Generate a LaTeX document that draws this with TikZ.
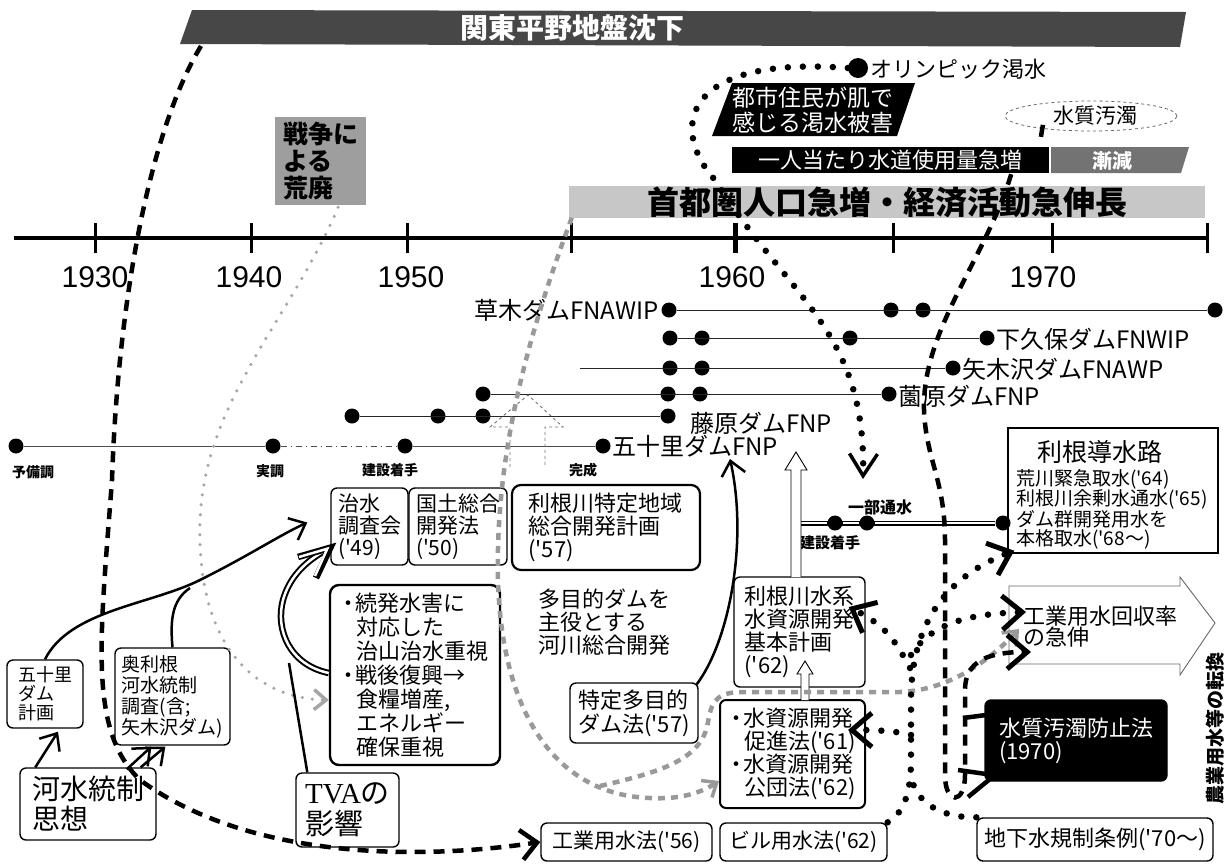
\documentclass[tikz,border=0pt]{standalone}
\usepackage{fontspec}
\newfontfamily\jp{Noto Sans CJK JP}
\newfontfamily\latf{Liberation Sans}
\newfontfamily\serf{Liberation Serif}
\usetikzlibrary{arrows.meta,calc,shapes.geometric}
\newcommand\fsz[2]{\fontsize{#1}{#2}\selectfont}
\newcommand\bul{\makebox[14pt][l]{\kern-4pt ・}}
\newcommand\ind{\hspace*{15pt}}
\begin{document}
\begin{tikzpicture}[x=1pt,y=-1pt,
  box/.style={draw, rounded corners=6pt, line width=1.4pt, inner sep=0pt, align=left},
  dotn/.style={circle, fill=black, inner sep=0pt, minimum size=15pt},
  damline/.style={line width=1pt, black!85},
  damlab/.style={inner sep=0pt, font={\jp\fsz{24}{24}}},
  small/.style={inner sep=0pt, font={\jp\bfseries\fsz{14}{14}}},
  yearlab/.style={inner sep=0pt, font={\latf\fsz{30}{30}}},
  bigdash/.style={line width=4.5pt, dash pattern=on 11pt off 8pt},
  greydash/.style={line width=4.5pt, black!40, dash pattern=on 7pt off 6pt},
  bdots/.style={line width=6.5pt, line cap=round, dash pattern=on 0pt off 15pt},
  gdots/.style={line width=3.5pt, line cap=round, black!35, dash pattern=on 0pt off 10pt},
  barbK/.style={-{Straight Barb[length=20pt,width=34pt,line width=5pt]}},
  barbS/.style={-{Straight Barb[length=14pt,width=24pt,line width=2.5pt]}},
  barbG/.style={-{Straight Barb[length=12pt,width=20pt,line width=3.5pt]}},
]
\useasboundingbox (0,0) rectangle (1226,863);

% ---------------- bands and top labels
\fill[black!72] (192,10) -- (1186,12) -- (1180,47) -- (180,44) -- cycle;
\node[font={\jp\bfseries\fsz{28}{30}}, text=white, inner sep=0] (kanto) at (572,28) {関東平野地盤沈下};
\node[fill=black!38, minimum width=91, minimum height=88, inner sep=0, align=left,
      font={\jp\bfseries\fsz{25}{27}}] (senso) at (320.5,161) {戦争に\\よる\\荒廃};
\node[fill=black!22, minimum width=636, minimum height=30, inner sep=0,
      font={\jp\bfseries\fsz{32}{32}}] (shuto) at (887,202) {首都圏人口急増・経済活動急伸長};
\node[fill=black, text=white, minimum width=317, minimum height=26, inner sep=0,
      font={\jp\fsz{22}{22}}] (hitori) at (890.5,160) {一人当たり水道使用量急増};
\fill[black!55] (1051,147) -- (1189,147) -- (1181,173) -- (1051,173) -- cycle;
\node[text=white, font={\jp\bfseries\fsz{20}{20}}, inner sep=0] (zengen) at (1112,161) {漸減};
\fill[black] (732,83) -- (915,83) -- (897,136) -- (712,136) -- cycle;
\node[text=white, align=left, font={\jp\fsz{23}{25}}, inner sep=0] (toshi) at (813,110) {都市住民が肌で\\感じる渇水被害};
\node[dotn, minimum size=20pt] (olym) at (858,68) {};
\node[anchor=west, inner sep=0, font={\jp\fsz{22}{22}}] (olymt) at (870,69) {オリンピック渇水};
\node[ellipse, draw=black!60, dashed, line width=0.8pt, minimum width=172, minimum height=30, inner sep=0,
      font={\jp\fsz{21}{21}}] (odaku) at (1091,116) {\hspace*{8pt}水質汚濁};

% ---------------- time axis
\coordinate (ax0) at (14,238);
\coordinate (ax1) at (1207,238);
\draw[line width=3.5pt] (ax0) -- (ax1);
\foreach \x in {95,251,407,571,893,1052,1207} \draw[line width=3pt] (\x,223) -- (\x,253);
\draw[line width=5pt] (735,223) -- (735,253);
\node[yearlab] (y1930) at (95,277) {1930};
\node[yearlab] (y1940) at (249,277) {1940};
\node[yearlab] (y1950) at (411,277) {1950};
\node[yearlab] (y1960) at (732,277) {1960};
\node[yearlab] (y1970) at (1043,277) {1970};

% ---------------- dam lines
\node[dotn] (a1) at (669,310) {}; \node[dotn] (a2) at (891,310) {};
\node[dotn] (a3) at (923,310) {}; \node[dotn] (a4) at (1215,310) {};
\draw[damline] (a1) -- (a4);
\node[damlab, anchor=east] (kusakit) at (659,310) {草木ダムFNAWIP};

\node[dotn] (b1) at (670,338) {}; \node[dotn] (b2) at (702,338) {};
\node[dotn] (b3) at (850,338) {}; \node[dotn] (b4) at (987,338) {};
\draw[damline] (b1) -- (b4);
\node[damlab, anchor=west] (shimot) at (996,339) {下久保ダムFNWIP};

\coordinate (c0) at (580,368);
\node[dotn] (c1) at (670,368) {}; \node[dotn] (c2) at (702,368) {};
\node[dotn] (c3) at (953,368) {};
\draw[damline] (c0) -- (c3);
\node[damlab, anchor=west] (yagit) at (962,369) {矢木沢ダムFNAWP};

\node[dotn] (d1) at (483,394) {}; \node[dotn] (d2) at (668,394) {};
\node[dotn] (d3) at (700,394) {}; \node[dotn] (d4) at (889,394) {};
\draw[damline] (d1) -- (d4);
\node[damlab, anchor=west] (sonot) at (898,396) {薗原ダムFNP};

\node[dotn] (e1) at (352,416) {}; \node[dotn] (e2) at (438,416) {};
\node[dotn] (e3) at (483,416) {}; \node[dotn] (e4) at (668,416) {};
\draw[damline] (e1) -- (e4);
\node[damlab, anchor=west] (fujit) at (690,423) {藤原ダムFNP};

\node[dotn] (f1) at (16,446) {}; \node[dotn] (f2) at (273,446) {};
\node[dotn] (f3) at (405,446) {}; \node[dotn] (f4) at (603,446) {};
\draw[line width=0.8pt, black!70] (f1) -- (f2);
\draw[line width=0.8pt, black!70, dash pattern=on 6pt off 4pt on 1pt off 4pt] (f2) -- (f3);
\draw[line width=0.8pt, black!70] (f3) -- (f4);
\node[damlab, anchor=west] (ikarit) at (612,446) {五十里ダムFNP};
\node[small, anchor=west] (yobi) at (12,472) {予備調};
\node[small] (jitsu) at (270,471) {実調};
\node[small] (kenset1) at (390,470) {建設着手};
\node[small] (kansei) at (583,470) {完成};

% dashed outline block arrow
\draw[black!55, dashed, line width=0.9pt] (510,467) -- (510,427) -- (490,427) -- (528,395) -- (563,427) -- (545,427) -- (545,467);

% ---------------- Tone canal line
\coordinate (g0) at (795,523);
\node[dotn] (g1) at (835,523) {}; \node[dotn] (g2) at (867,523) {};
\node[dotn] (g3) at (1003,523) {};
\draw[line width=5pt] (g0) -- (g3);
\draw[white, line width=1.3pt] (g0) -- (g1) (g1) -- (g2) (g2) -- (g3);
\node[inner sep=0, font={\jp\bfseries\fsz{16}{16}}] (ichibu) at (880,507) {一部通水};
\node[inner sep=0, font={\jp\bfseries\fsz{15}{15}}] (kenset2) at (830,543) {建設着手};

% ---------------- boxes
\node[box, minimum width=76, minimum height=68, font={\jp\fsz{18}{19}}] (gojuri) at (45,694) {五十里\\ダム\\計画};
\node[box, minimum width=115, minimum height=97, font={\jp\fsz{19}{21}}] (okutone) at (172.5,696.5) {奥利根\\河水統制\\調査(含;\\矢木沢ダム)};
\node[box, minimum width=136, minimum height=72, font={\jp\fsz{28}{30}}] (kasui) at (88,804) {河水統制\\思想};
\node[box, minimum width=103, minimum height=74, font={\jp\fsz{29}{31}}] (tva) at (347.5,810) {{\serf TVA}の\\影響};
\node[box, minimum width=77, minimum height=77, font={\jp\fsz{21}{22}}] (chisui) at (369.5,526.5) {治水\\調査会\\('49)};
\node[box, minimum width=98, minimum height=77, font={\jp\fsz{21}{22}}] (kokudo) at (458,526.5) {国土総合\\開発法\\('50)};
\node[box, line width=2.2pt, rounded corners=9pt, minimum width=188, minimum height=85, font={\jp\fsz{22}{23}}] (tonetoku) at (606,527.5) {利根川特定地域\\総合開発計画\\('57)\hspace*{110pt}};
\node[box, line width=2.4pt, rounded corners=9pt, minimum width=170, minimum height=180, font={\jp\fsz{22}{24}}] (zoku) at (415,675) {\bul 続発水害に\\\ind 対応した\\\ind 治山治水重視\\\bul 戦後復興→\\\ind 食糧増産,\\\ind エネルギー\\\ind 確保重視};
\node[inner sep=0, align=left, anchor=west, font={\jp\fsz{22}{23}}] (tamoku) at (538,622) {多目的ダムを\\主役とする\\河川総合開発};
\node[box, minimum width=128, minimum height=60, font={\jp\fsz{22}{24}}] (tokutei) at (634,713) {特定多目的\\ダム法('57)};
\node[box, minimum width=131, minimum height=110, font={\jp\fsz{22}{23}}] (tonesui) at (799.5,632) {利根川水系\\水資源開発\\基本計画\\('62)\hspace*{60pt}};
\node[box, line width=2pt, minimum width=145, minimum height=108, font={\jp\fsz{22}{23}}] (suishi) at (792.5,754) {\bul 水資源開発\\\ind 促進法('61)\\\bul 水資源開発\\\ind 公団法('62)};
\node[box, minimum width=171, minimum height=38, font={\jp\fsz{21}{21}}] (kogyo) at (626.5,842) {工業用水法('56)};
\node[box, minimum width=167, minimum height=38, font={\jp\fsz{21}{21}}] (biru) at (803.5,842) {ビル用水法('62)};
\node[box, minimum width=236, minimum height=43, font={\jp\fsz{22}{22}}] (chika) at (1095,839.5) {地下水規制条例('70〜)};
\node[box, fill=black, text=white, minimum width=182, minimum height=81, font={\jp\fsz{22}{23}}] (boshi) at (1076,740.5) {水質汚濁防止法\\(1970)\hspace*{90pt}};

% Tone canal box
\node[draw, line width=1.4pt, minimum width=210, minimum height=125, inner sep=0] (tonedo) at (1113,490.5) {};
\node[inner sep=0, font={\jp\fsz{25}{25}}] (tdtitle) at (1100,452) {利根導水路};
\node[anchor=north west, align=left, inner sep=0, font={\jp\fsz{19}{19}}] (tdbody) at (1016,469) {荒川緊急取水('64)\\利根川余剰水通水('65)\\ダム群開発用水を\\本格取水('68〜)};

% industrial water recycling arrow
\draw[black!60, line width=0.9pt] (1009,586) -- (1180,586) -- (1180,577) -- (1215,623) -- (1180,675) -- (1180,664) -- (1009,664) -- cycle;
\node[anchor=west, align=left, inner sep=0, font={\jp\fsz{22}{21}}] (kaishu) at (1023,627) {工業用水回収率\\の急伸};
\node[rotate=90, inner sep=0, font={\jp\bfseries\fsz{19}{19}}] (nogyo) at (1215,728) {農業用水等の転換};

% hollow up arrows
\draw[line width=0.9pt, fill=white] (791,577) -- (791,470) -- (785,470) -- (796,452) -- (807,470) -- (801,470) -- (801,577);
\draw[line width=0.9pt, fill=white] (801,700) -- (801,674) -- (797,674) -- (805,661) -- (813,674) -- (809,674) -- (809,700);

% ---------------- connectors
% subsidence -> industrial water law
\coordinate (c1s) at (201,46);
\draw[bigdash, -{Straight Barb[length=16pt,width=30pt,line width=4.5pt]}]
  (c1s) .. controls (150,130) and (118,300) .. (112,480)
  .. controls (100,640) and (88,730) .. (140,780)
  .. controls (250,860) and (420,860) .. (kogyo.west);

% war -> zoku (grey dotted)
\draw[gdots, barbG, black!35] ($(senso.south east)+(-28,2)$) .. controls (290,320) and (205,400) .. (200,520)
  .. controls (196,640) and (250,698) .. ($(zoku.west)+(0,25)$);

% population band -> water resource laws (grey dashed)
\draw[greydash, barbG] ($(shuto.south west)+(3,0)$) .. controls (530,330) and (495,450) .. (498,580)
  .. controls (502,720) and (560,795) .. (650,798) .. controls (685,800) and (705,790) .. ($(suishi.south west)+(0,-28)$);
\draw[greydash, barbG] (600,786) .. controls (660,772) and (702,760) .. (708,722)
  .. controls (712,697) and (720,692) .. (745,692) -- (900,692)
  .. controls (950,690) and (990,660) .. ($(kaishu.west)+(-4,2)$);

% Olympic drought -> partial water passage
\draw[bdots, -{Straight Barb[length=22pt,width=28pt,line width=3.5pt]}] (olym.west) .. controls (680,55) and (670,130) .. (715,180)
  .. controls (790,300) and (866,330) .. ($(g2)+(-4,-44)$);

% water use increase -> recycling (thick dashed U)
\draw[line width=4.5pt] ($(odaku.south west)+(13,-2)$) -- ($(odaku.south west)+(11,10)$);
\draw[bigdash, barbK] ($(hitori.south east)+(-38,1)$) .. controls (985,260) and (922,330) .. (924,410)
  .. controls (926,460) and (945,480) .. (945,540) -- (945,775)
  .. controls (945,805) and (965,805) .. (965,775) -- (965,690)
  .. controls (965,660) and (990,652) .. ($(kaishu.west)+(8,25)$);
\draw[line width=4.5pt] (963,718) -- (986,715);
\draw[line width=4.5pt] (958,770) -- (986,774);
\draw[line width=4.5pt] (968,797) -- (990,779);

% groundwater regulations -> various (black dotted)
\draw[bdots, barbK] (biru.north east) .. controls (900,815) and (911,800) .. (911,760) -- (911,700)
  .. controls (911,620) and (950,575) .. ($(tonedo.south west)+(7,-3)$);
\draw[bdots] (chika.north west) .. controls (945,818) and (915,805) .. (911,775);
\draw[bdots, barbK] (911,655) .. controls (930,625) and (965,614) .. ($(kaishu.west)+(3,-15)$);
\draw[bdots, barbK] (910,668) .. controls (895,640) and (885,625) .. ($(tonesui.east)+(-17,-25)$);
\draw[bdots, barbK] (911,735) .. controls (895,731) and (880,730) .. ($(suishi.east)+(-18,-24)$);

% black solid curves
\draw[line width=2.5pt, barbS] (gojuri.north) .. controls (70,610) and (150,605) .. (200,580)
  .. controls (250,555) and (280,535) .. ($(chisui.west)+(-23,-4)$);
\draw[line width=2.5pt] (okutone.north) .. controls (170,620) and (172,600) .. (190,588);
\draw[line width=2.5pt, barbS] ($(kasui.north west)+(16,0)$) -- ($(gojuri.south)+(13,3)$);
\draw[line width=2.5pt, barbS] ($(kasui.north east)+(-30,2)$) -- ($(okutone.south west)+(37,1)$);
\draw[line width=2.5pt, barbS] ($(kasui.north east)+(-16,0)$) -- ($(okutone.south west)+(51,1)$);
\draw[line width=2.5pt, barbS] ($(tokutei.north east)+(-2,2)$) .. controls (730,640) and (748,540) .. ($(ikarit.west)+(118,13)$);

% TVA -> chisui (hollow double arrow)
\draw[line width=2.5pt] ($(tva.north west)+(12,0)$) -- (289,663);
\draw[line width=6.5pt] ($(zoku.west)+(0,-2)$) .. controls (290,665) and (275,630) .. (283,600)
  .. controls (290,575) and (308,560) .. (326,550);
\draw[white, line width=2.5pt] ($(zoku.west)+(0,-2)$) .. controls (290,665) and (275,630) .. (283,600)
  .. controls (290,575) and (308,560) .. (326,550);
\draw[line width=6.5pt, line join=miter] (298,557) -- ($(chisui.south west)+(0,-18)$) -- (316,578);
\draw[white, line width=2.5pt, line join=miter] (299,557) -- ($(chisui.south west)+(-3,-17)$) -- (315,576);

\end{tikzpicture}
\end{document}
